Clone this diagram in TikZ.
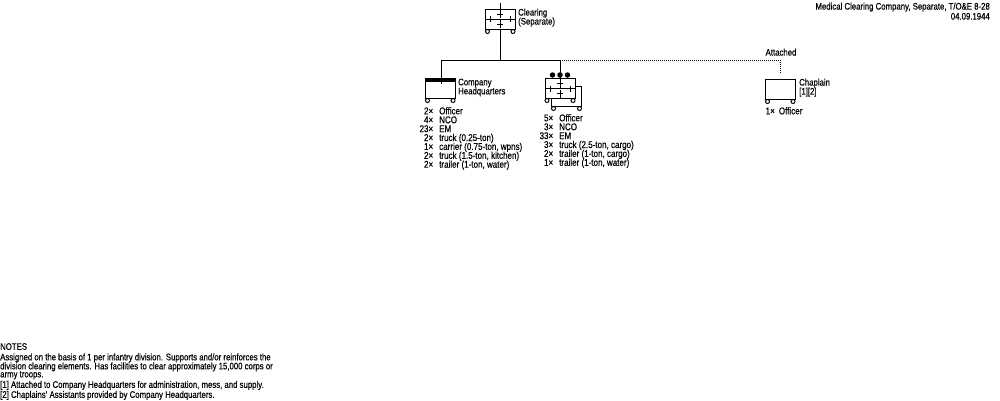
\documentclass[tikz,border=0pt]{standalone}
\usepackage{fontspec}
\setmainfont[FakeStretch=0.82,FakeBold=0.4]{Liberation Sans}
\setlength{\normallineskiplimit}{-9pt}
\setlength{\lineskiplimit}{-9pt}
\newcommand{\medcross}[1]{%
    \draw[line] ([xshift=-10pt]#1.center) ++(0,-3) -- ++(0,6);
    \draw[line] ([xshift=10pt]#1.center) ++(0,-3) -- ++(0,6);
    \draw[line] ([yshift=5pt]#1.center) ++(-3,0) -- ++(6,0);
    \draw[line] ([yshift=5pt]#1.center) ++(0,-4) -- ++(0,8);
    \draw[line] ([yshift=-5pt]#1.center) ++(-3,0) -- ++(6,0);
    \draw[line] ([yshift=-5pt]#1.center) ++(0,-4) -- ++(0,8);
}
\newcommand{\crew}[1]{\makebox[13pt][r]{#1×}\hspace{6pt}}
\begin{document}
\begin{tikzpicture}
        [x=1pt,y=-1pt,
        unit/.style={rectangle,draw=black,fill=white,line width=1pt,minimum width=30pt,minimum height=20pt,inner sep=0pt},
        wheel/.style={circle,draw=black,fill=white,line width=1pt,minimum size=4pt,inner sep=0pt},
        dot/.style={circle,fill=black,minimum size=5.5pt,inner sep=0pt},
        line/.style={line width=1pt,black},
        attached/.style={line width=1pt,black,dash pattern=on 1pt off 1pt},
        label/.style={inner sep=0pt,anchor=north west,align=left,font=\fontsize{9.5}{9}\selectfont},
        noteblock/.style={inner sep=0pt,anchor=north west,align=left,font=\fontsize{9.5}{8}\selectfont},
        roster/.style={inner sep=0pt,anchor=north west,align=left,font=\fontsize{9.8}{8.9}\selectfont}]
        \useasboundingbox (0,0) rectangle (1000,400);
        \coordinate (top) at (500,3);
        \coordinate (hub) at (500,60);
        \coordinate (hqbend) at (441,60);
        \coordinate (clbend) at (560,60);
        \coordinate (chbend) at (780,60);
        % clearing
        \node[wheel] (w1) at (487.5,31.5) {};
        \node[wheel] (w2) at (513,31.5) {};
        \node[unit] (clearing) at (500,19) {};
        \draw[line] (clearing.west) -- (clearing.east);
        \medcross{clearing}
        \draw[line] (top) -- (clearing.north);
        \draw[line] (clearing.south) -- (hub);
        \node[label] (clearingtext) at (518,8.5) {Clearing\\(Separate)};
        % headquarters
        \node[wheel] (w3) at (427.5,100.5) {};
        \node[wheel] (w4) at (453,100.5) {};
        \node[unit] (hq) at (440,88.5) {};
        \fill[black] (hq.north west) rectangle ([yshift=-4pt]hq.north east);
        \draw[line] (hub) -- (hqbend);
        \draw[line] (hqbend) -- ([yshift=-6pt]hq.north -| hqbend);
        \node[label] (hqtext) at (458,78.5) {Company\\Headquarters};
        \node[roster] (hqroster) at (420,107) {\crew{2}Officer\\
            \crew{4}NCO\\
            \crew{23}EM\\
            \crew{2}truck (0.25-ton)\\
            \crew{1}carrier (0.75-ton, wpns)\\
            \crew{2}truck (1.5-ton, kitchen)\\
            \crew{2}trailer (1-ton, water)};
        % clearing platoon
        \node[wheel] (w5) at (553.5,108.5) {};
        \node[wheel] (w6) at (579.5,108.5) {};
        \node[unit] (shadow) at (566.5,96.5) {};
        \node[wheel] (w7) at (547,100.5) {};
        \node[wheel] (w8) at (573,100.5) {};
        \node[unit] (platoon) at (560,88.5) {};
        \draw[line] (platoon.west) -- (platoon.east);
        \medcross{platoon}
        \node[dot] (d1) at (552.5,75) {};
        \node[dot] (d2) at (560,75) {};
        \node[dot] (d3) at (567.5,75) {};
        \draw[line] (hub) -- (clbend);
        \draw[line] (clbend) -- ([yshift=-9pt]platoon.north);
        \node[roster] (platoonroster) at (540,114) {\crew{5}Officer\\
            \crew{3}NCO\\
            \crew{33}EM\\
            \crew{3}truck (2.5-ton, cargo)\\
            \crew{2}trailer (1-ton, cargo)\\
            \crew{1}trailer (1-ton, water)};
        % chaplain
        \node[wheel] (w9) at (767.5,101.5) {};
        \node[wheel] (w10) at (793,101.5) {};
        \node[unit] (chaplain) at (780.5,89) {};
        \draw[attached] (clbend) -- (chbend);
        \draw[attached] (chbend) -- ([yshift=6pt]chaplain.north -| chbend);
        \node[label,anchor=north] (attachedtext) at (781,48.5) {Attached};
        \node[label] (chaplaintext) at (799,78.5) {Chaplain\\{[1][2]}};
        \node[roster] (chaplainroster) at (765.5,107) {1×\hspace{4pt}Officer};
        % title
        \node[label,anchor=north east,align=right] (title) at (990,2.5) {Medical Clearing Company, Separate, T/O\&E 8-28\\[1pt]04.09.1944};
        % notes
        \node[noteblock] (notes) at (0,343) {NOTES\\[2.5pt]
            Assigned on the basis of 1 per infantry division. Supports and/or reinforces the\\[1pt]
            division clearing elements. Has facilities to clear approximately 15,000 corps or\\[0pt]
            army troops.\\[2.5pt]
            {[1]} Attached to Company Headquarters for administration, mess, and supply.\\[2pt]
            {[2]} Chaplains' Assistants provided by Company Headquarters.};
\end{tikzpicture}
\end{document}
